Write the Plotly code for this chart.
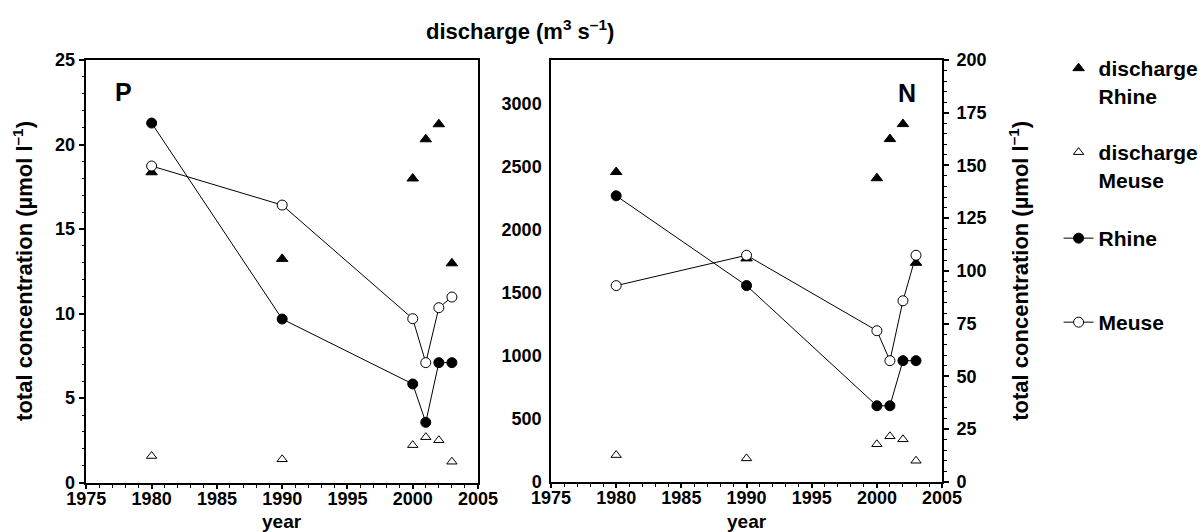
import plotly.graph_objects as go

W, H = 1204, 532

years = [1980, 1990, 2000, 2001, 2002, 2003]

# discharge (m3 s-1)
discharge_rhine = [2455, 1770, 2406, 2716, 2835, 1735]
discharge_meuse = [211, 185, 297, 360, 336, 166]

# total P concentration (umol/l)
p_rhine = [21.27, 9.68, 5.84, 3.57, 7.10, 7.10]
p_meuse = [18.73, 16.42, 9.70, 7.10, 10.35, 10.98]

# total N concentration (umol/l)
n_rhine = [135.6, 93.0, 36.0, 36.0, 57.4, 57.4]
n_meuse = [93.0, 107.4, 71.6, 57.4, 85.8, 107.4]

x_ticks = [1975, 1980, 1985, 1990, 1995, 2000, 2005]
p_ticks = [0, 5, 10, 15, 20, 25]
n_ticks = [0, 25, 50, 75, 100, 125, 150, 175, 200]
q_ticks = [0, 500, 1000, 1500, 2000, 2500, 3000]

FONT = "Liberation Sans, Arial, Helvetica, sans-serif"


def px_x(p):
    return p / W


def px_y(p):
    return (H - p) / H


fig = go.Figure()

tri_f = dict(symbol="triangle-up", size=10, color="black", line=dict(color="black", width=1))
tri_o = dict(symbol="triangle-up-open", size=9, color="black", line=dict(color="black", width=1))
circ_f = dict(symbol="circle", size=10, color="black", line=dict(color="black", width=1))
circ_o = dict(symbol="circle", size=10, color="white", line=dict(color="black", width=1))
lstyle = dict(color="black", width=1)

# left panel: discharge on base axis y, P on overlaying y2
fig.add_trace(go.Scatter(x=years, y=discharge_rhine, mode="markers", marker=tri_f,
                         name="discharge<br>Rhine", xaxis="x", yaxis="y",
                         legend="legend", showlegend=True))
fig.add_trace(go.Scatter(x=years, y=discharge_meuse, mode="markers", marker=tri_o,
                         name="discharge<br>Meuse", xaxis="x", yaxis="y",
                         legend="legend2", showlegend=True))
fig.add_trace(go.Scatter(x=years, y=p_rhine, mode="lines+markers", marker=circ_f, line=lstyle,
                         name="Rhine", xaxis="x", yaxis="y2", legend="legend3", showlegend=True))
fig.add_trace(go.Scatter(x=years, y=p_meuse, mode="lines+markers", marker=circ_o, line=lstyle,
                         name="Meuse", xaxis="x", yaxis="y2", legend="legend4", showlegend=True))

# right panel: discharge on base axis y3, N on overlaying y4
fig.add_trace(go.Scatter(x=years, y=discharge_rhine, mode="markers", marker=tri_f,
                         xaxis="x2", yaxis="y3", showlegend=False))
fig.add_trace(go.Scatter(x=years, y=discharge_meuse, mode="markers", marker=tri_o,
                         xaxis="x2", yaxis="y3", showlegend=False))
fig.add_trace(go.Scatter(x=years, y=n_rhine, mode="lines+markers", marker=circ_f, line=lstyle,
                         xaxis="x2", yaxis="y4", showlegend=False))
fig.add_trace(go.Scatter(x=years, y=n_meuse, mode="lines+markers", marker=circ_o, line=lstyle,
                         xaxis="x2", yaxis="y4", showlegend=False))

tickfont = dict(family=FONT, size=18, color="black", weight="bold")

left_dom = [px_x(86.7), px_x(480)]
right_dom = [px_x(553.3), px_x(946)]
ydom_l = [px_y(482.7), px_y(60)]
ydom_r = [px_y(481.7), px_y(60)]

xcommon = dict(range=[1975, 2005], tickvals=x_ticks, ticks="outside", ticklen=5, tickwidth=1.5,
               tickcolor="black", showline=True, linecolor="black", linewidth=1.5, mirror=True,
               showgrid=False, zeroline=False, tickfont=tickfont, automargin=False,
               ticklabelstandoff=-6,
               minor=dict(dtick=1, ticks="outside", ticklen=4, tickwidth=1, tickcolor="black"))

fig.update_layout(
    template="none",
    width=W, height=H,
    margin=dict(l=0, r=0, t=0, b=0, pad=0),
    paper_bgcolor="white", plot_bgcolor="rgba(0,0,0,0)",
    font=dict(family=FONT, color="black"),
    xaxis=dict(domain=left_dom, anchor="y", **xcommon),
    xaxis2=dict(domain=right_dom, anchor="y3", **xcommon),
    yaxis=dict(domain=ydom_l, anchor="x", range=[0, 3343], visible=False, automargin=False),
    yaxis2=dict(overlaying="y", anchor="x", side="left", range=[0, 25], tickvals=p_ticks,
                ticks="outside", ticklen=6, tickwidth=1.5, tickcolor="black",
                showline=True, linecolor="black", linewidth=1.5, mirror=True,
                showgrid=False, zeroline=False, tickfont=tickfont, automargin=False,
                minor=dict(dtick=1, ticks="outside", ticklen=3, tickwidth=1, tickcolor="black")),
    yaxis3=dict(domain=ydom_r, anchor="x2", side="left", range=[0, 3343], tickvals=q_ticks,
                ticks="", showline=True, linecolor="black", linewidth=1.5,
                showgrid=False, zeroline=False, tickfont=tickfont, ticklabelstandoff=4,
                automargin=False),
    yaxis4=dict(overlaying="y3", anchor="x2", side="right", range=[0, 200], tickvals=n_ticks,
                ticks="outside", ticklen=5, tickwidth=1.5, tickcolor="black",
                showline=True, linecolor="black", linewidth=1.5,
                showgrid=False, zeroline=False, tickfont=tickfont, automargin=False,
                ticklabelstandoff=4,
                minor=dict(dtick=5, ticks="outside", ticklen=3, tickwidth=1, tickcolor="black")),
)

legfont = dict(family=FONT, size=21, color="black", weight="bold")
leg_common = dict(x=px_x(1063), xanchor="left", yanchor="top", font=legfont,
                  bgcolor="rgba(0,0,0,0)", borderwidth=0, valign="top", itemwidth=30)
fig.update_layout(
    legend=dict(y=px_y(48), **leg_common),
    legend2=dict(y=px_y(132), **leg_common),
    legend3=dict(y=px_y(218), **leg_common),
    legend4=dict(y=px_y(302), **leg_common),
)

titlefont = dict(family=FONT, size=22, color="black", weight="bold")
yearfont = dict(family=FONT, size=19, color="black", weight="bold")
ann = [
    dict(text="discharge (m<sup>3</sup> s<sup>–1</sup>)", x=px_x(522), y=px_y(30)),
    dict(text="total concentration (µmol l<sup>–1</sup>)", x=px_x(23), y=px_y(271), textangle=-90),
    dict(text="total concentration (µmol l<sup>–1</sup>)", x=px_x(1023), y=px_y(271), textangle=-90),
    dict(text="year", x=px_x(283), y=px_y(521), font=yearfont),
    dict(text="year", x=px_x(750), y=px_y(521), font=yearfont),
    dict(text="P", x=px_x(124), y=px_y(92), font=dict(family=FONT, size=25, color="black", weight="bold")),
    dict(text="N", x=px_x(911), y=px_y(93), font=dict(family=FONT, size=25, color="black", weight="bold")),
]
for a in ann:
    a.setdefault("font", titlefont)
    fig.add_annotation(xref="paper", yref="paper", xanchor="center", yanchor="middle",
                       showarrow=False, **a)

fig.write_html("out.html",
               config={"displayModeBar": False},
               post_script="document.body.style.margin='0';document.body.style.overflow='hidden';")
